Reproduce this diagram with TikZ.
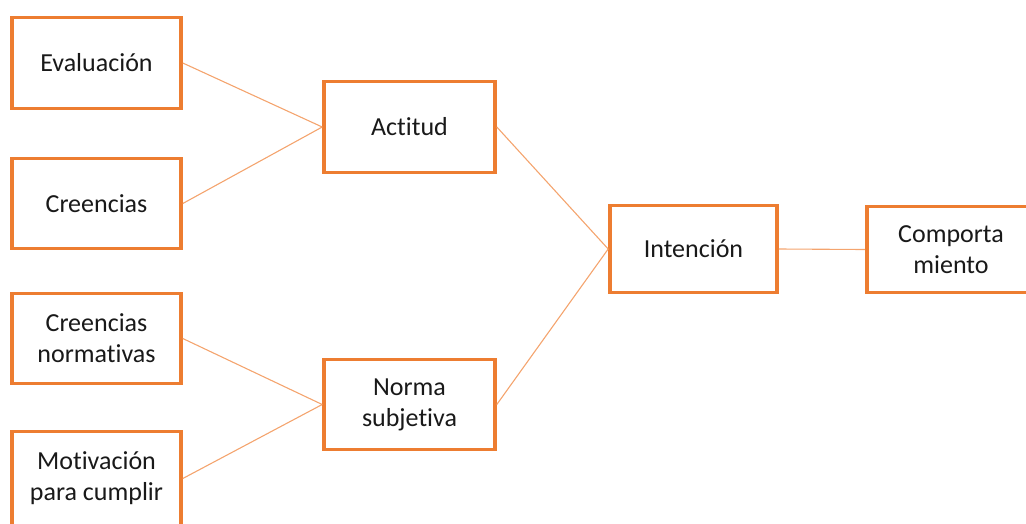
\documentclass[tikz,border=0pt]{standalone}
\usepackage{fontspec}
\setmainfont{Carlito}[RawFeature={-liga;-clig;-dlig}]
\definecolor{boxor}{HTML}{ED7D31}
\definecolor{lineor}{HTML}{F4A46E}
\begin{document}
\begin{tikzpicture}[x=1pt,y=-1pt,
  box/.style={draw=boxor, line width=3.6pt, fill=white, rectangle, inner sep=0pt,
    align=center, font=\fontsize{26}{31}\selectfont, text=black!90},
  conn/.style={draw=lineor, line width=1.1pt}]
\useasboundingbox (0,0) rectangle (1026,523);
\clip (0,0) rectangle (1026,523);
\node[box, minimum width=169pt, minimum height=91pt] (eval) at (96.5,63) {Evaluación};
\node[box, minimum width=169pt, minimum height=90pt] (cre) at (96.5,203.5) {Creencias};
\node[box, minimum width=169pt, minimum height=90pt] (cn) at (96.5,338.5) {Creencias\\normativas};
\node[box, minimum width=169pt, minimum height=94pt] (mot) at (96.5,478.5) {Motivación\\para cumplir};
\node[box, minimum width=171pt, minimum height=91pt] (act) at (409.5,127) {Actitud};
\node[box, minimum width=171pt, minimum height=90pt] (norm) at (409.5,404.5) {Norma\\subjetiva};
\node[box, minimum width=167pt, minimum height=87pt] (int) at (693.5,249) {Intención};
\node[box, minimum width=168pt, minimum height=86pt] (comp) at (951,249.5) {Comporta\\miento};
\draw[conn] (eval.east) -- (act.west);
\draw[conn] (cre.east) -- (act.west);
\draw[conn] (cn.east) -- (norm.west);
\draw[conn] (mot.east) -- (norm.west);
\draw[conn] (act.east) -- (int.west);
\draw[conn] (norm.east) -- (int.west);
\draw[conn] (int.east) -- (comp.west);
\end{tikzpicture}
\end{document}
